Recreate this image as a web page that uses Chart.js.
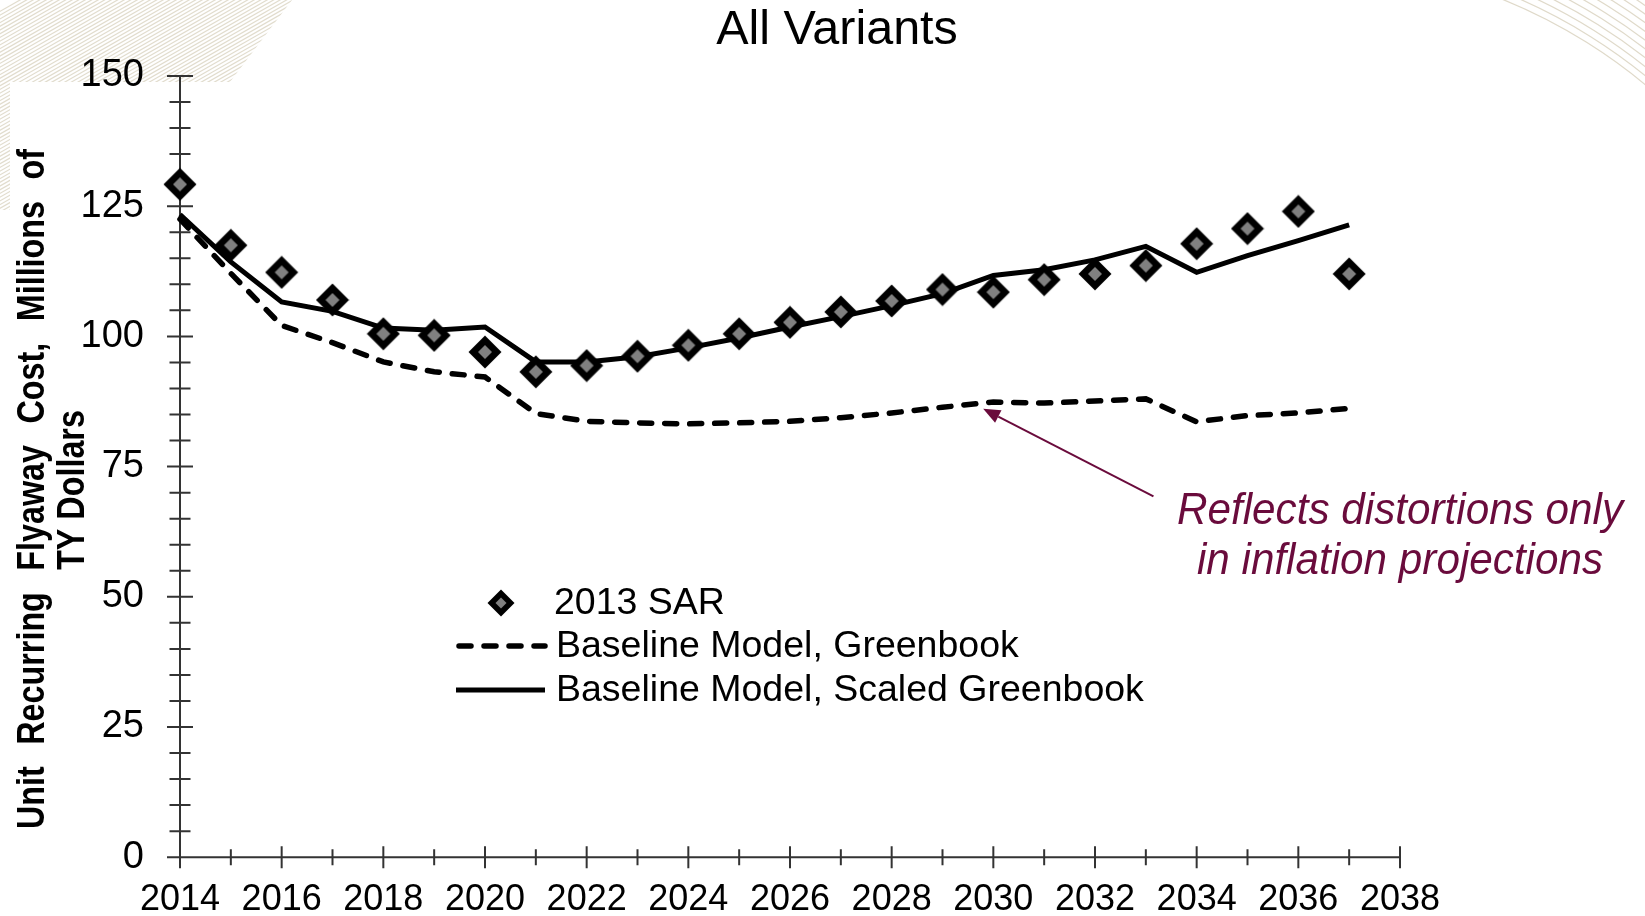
<!DOCTYPE html>
<html>
<head>
<meta charset="utf-8">
<script src="https://cdn.jsdelivr.net/npm/chart.js@4.4.0/dist/chart.umd.min.js"></script>
<style>
html,body{margin:0;padding:0;background:#fff;overflow:hidden;}
#wrap{width:1645px;height:916px;position:relative;}
</style>
</head>
<body>
<div id="wrap"><canvas id="c" width="1645" height="916"></canvas></div>
<script>
// ---- data ----
const years = [2014,2015,2016,2017,2018,2019,2020,2021,2022,2023,2024,2025,2026,2027,2028,2029,2030,2031,2032,2033,2034,2035,2036,2037];
const sar2013 = [129.2,117.5,112.3,107.0,100.5,100.2,97.0,93.2,94.4,96.2,98.3,100.5,102.7,104.7,106.8,109.0,108.5,110.9,112.0,113.6,117.8,120.7,124.0,112.0];
const greenbook = [122.5,112.1,102.1,98.8,95.1,93.2,92.2,85.2,83.7,83.4,83.2,83.4,83.7,84.4,85.3,86.4,87.4,87.2,87.6,88.0,83.6,84.8,85.3,86.2];
const scaledGreenbook = [123.4,114.3,106.6,104.8,101.6,101.2,101.8,95.1,95.1,96.1,97.8,99.7,101.8,103.8,105.9,108.2,111.7,112.8,114.7,117.3,112.3,115.5,118.4,121.4];
const xTickLabels = [2014,2016,2018,2020,2022,2024,2026,2028,2030,2032,2034,2036,2038];
const yTickLabels = [0,25,50,75,100,125,150];
const seriesNames = ['2013 SAR','Baseline Model, Greenbook','Baseline Model, Scaled Greenbook'];
const titleText = 'All Variants';
const yTitleLines = ['Unit Recurring Flyaway Cost, Millions of','TY Dollars'];
const noteLines = ['Reflects distortions only','in inflation projections'];
const arrowTip = {x: 2029.8, y: 86.1};
const arrowTail = {x: 2033.15, y: 69.3};

const FONT = "'Liberation Sans', Arial, sans-serif";
const MAROON = '#6a0b3c';
const DASH = [12, 13];

function pts(vals){ return years.map((yr,i)=>({x:yr,y:vals[i]})); }

function drawDiamond(ctx,cx,cy,outer,inner){
  ctx.beginPath();
  ctx.moveTo(cx,cy-outer); ctx.lineTo(cx+outer,cy); ctx.lineTo(cx,cy+outer); ctx.lineTo(cx-outer,cy); ctx.closePath();
  ctx.fillStyle='#000'; ctx.fill();
  ctx.beginPath();
  ctx.moveTo(cx,cy-inner); ctx.lineTo(cx+inner,cy); ctx.lineTo(cx,cy+inner); ctx.lineTo(cx-inner,cy); ctx.closePath();
  ctx.fillStyle='#808080'; ctx.fill();
}

// point glyph as an image for the library's pointStyle
const diamondImg = document.createElement('canvas');
diamondImg.width = 34; diamondImg.height = 34;
drawDiamond(diamondImg.getContext('2d'), 17, 17, 16.5, 7);

const decorPlugin = {
  id:'decor',
  beforeDraw(chart){
    const ctx = chart.ctx;
    ctx.save();
    ctx.fillStyle='#fff'; ctx.fillRect(0,0,chart.width,chart.height);
    ctx.save();
    ctx.beginPath();
    ctx.moveTo(0,0); ctx.lineTo(292,0); ctx.lineTo(230,82); ctx.lineTo(10,82); ctx.lineTo(10,210); ctx.lineTo(0,210); ctx.closePath();
    ctx.clip();
    ctx.strokeStyle='rgba(196,186,156,0.5)'; ctx.lineWidth=1.2;
    for(let k=-400;k<400;k+=6.5){
      ctx.beginPath(); ctx.moveTo(k,240); ctx.lineTo(k+560,-80); ctx.stroke();
    }
    ctx.restore();
    ctx.save();
    ctx.strokeStyle='rgba(196,186,156,0.55)'; ctx.lineWidth=1.2;
    for(let r=540;r<=610;r+=7){
      ctx.beginPath(); ctx.arc(1300,500,r,-Math.PI/2+0.25,-0.05); ctx.stroke();
    }
    ctx.restore();
    ctx.restore();
  }
};

const axesPlugin = {
  id:'crossAxes',
  beforeDatasetsDraw(chart){
    const {ctx, chartArea:a, scales:{x,y}} = chart;
    ctx.save();
    ctx.strokeStyle='#333'; ctx.lineWidth=2;
    ctx.beginPath();
    ctx.moveTo(a.left, y.getPixelForValue(150)); ctx.lineTo(a.left, y.getPixelForValue(0));
    ctx.moveTo(x.getPixelForValue(2014)-13, a.bottom); ctx.lineTo(x.getPixelForValue(2038), a.bottom);
    for(let v=0; v<=150; v+=5){
      const py=y.getPixelForValue(v); const L = v%25===0?13:10.5;
      ctx.moveTo(a.left-L,py); ctx.lineTo(a.left+L,py);
    }
    for(let yr=2014; yr<=2038; yr++){
      const px=x.getPixelForValue(yr); const L=(yr%2===0)?11:8;
      ctx.moveTo(px,a.bottom-L); ctx.lineTo(px,a.bottom+L);
    }
    ctx.stroke();
    ctx.restore();
  }
};

const textPlugin = {
  id:'texts',
  afterDraw(chart){
    const {ctx, scales:{x,y}} = chart;
    ctx.save();
    // title
    ctx.fillStyle='#000'; ctx.font='48.5px '+FONT; ctx.textAlign='center'; ctx.textBaseline='middle';
    ctx.fillText(titleText, 837, 31);
    // y axis title (condensed bold, first line justified)
    ctx.save();
    ctx.font='bold 38px '+FONT; ctx.fillStyle='#000'; ctx.textBaseline='alphabetic';
    ctx.rotate(-Math.PI/2);
    const sx0 = 0.85;
    ctx.scale(sx0,1);
    const words = yTitleLines[0].split(' ');
    const start=-829/sx0, end=-149/sx0;
    const wsum = words.reduce((s,w)=>s+ctx.measureText(w).width,0);
    const gap = (end-start-wsum)/(words.length-1);
    let cx=start;
    ctx.textAlign='left';
    words.forEach(w=>{ ctx.fillText(w,cx,44); cx+=ctx.measureText(w).width+gap; });
    ctx.textAlign='center';
    ctx.fillText(yTitleLines[1], -490/sx0, 84);
    ctx.restore();
    // legend
    ctx.font='37.5px '+FONT; ctx.textAlign='left'; ctx.textBaseline='middle';
    drawDiamond(ctx,501,603,13.5,5.5);
    ctx.fillStyle='#000';
    ctx.fillText(seriesNames[0],554,604);
    ctx.save();
    ctx.strokeStyle='#000'; ctx.lineWidth=5.5; ctx.lineCap='round'; ctx.setLineDash(DASH);
    ctx.beginPath(); ctx.moveTo(459,646); ctx.lineTo(545,646); ctx.stroke();
    ctx.setLineDash([]); ctx.lineWidth=5; ctx.lineCap='butt';
    ctx.beginPath(); ctx.moveTo(456,690); ctx.lineTo(545,690); ctx.stroke();
    ctx.restore();
    ctx.fillStyle='#000';
    ctx.fillText(seriesNames[1],556,647);
    ctx.fillText(seriesNames[2],556,691);
    // annotation
    ctx.save();
    ctx.font='italic 44px '+FONT; ctx.fillStyle=MAROON; ctx.textAlign='center'; ctx.textBaseline='middle';
    ctx.translate(1400,0); ctx.scale(0.96,1);
    ctx.fillText(noteLines[0],0,512);
    ctx.fillText(noteLines[1],0,562);
    ctx.restore();
    // arrow
    const tx=x.getPixelForValue(arrowTip.x), ty=y.getPixelForValue(arrowTip.y);
    const ax=x.getPixelForValue(arrowTail.x), ay=y.getPixelForValue(arrowTail.y);
    const ang=Math.atan2(ty-ay,tx-ax);
    const hl=17, hw=7;
    const bx=tx-hl*Math.cos(ang), by=ty-hl*Math.sin(ang);
    ctx.strokeStyle=MAROON; ctx.lineWidth=2;
    ctx.beginPath(); ctx.moveTo(ax,ay); ctx.lineTo(bx,by); ctx.stroke();
    ctx.beginPath();
    ctx.moveTo(tx,ty);
    ctx.lineTo(bx+hw*Math.sin(ang), by-hw*Math.cos(ang));
    ctx.lineTo(bx-hw*Math.sin(ang), by+hw*Math.cos(ang));
    ctx.closePath(); ctx.fillStyle=MAROON; ctx.fill();
    ctx.restore();
  }
};

new Chart(document.getElementById('c'), {
  type:'line',
  data:{
    datasets:[
      {label:seriesNames[0], data:pts(sar2013), showLine:false, pointStyle:diamondImg, pointRadius:17, pointHoverRadius:17,
       order:0, clip:false},
      {label:seriesNames[1], data:pts(greenbook), borderColor:'#000', borderWidth:5.5, borderDash:DASH, borderCapStyle:'round',
       pointRadius:0, tension:0, fill:false, order:2, clip:false},
      {label:seriesNames[2], data:pts(scaledGreenbook), borderColor:'#000', borderWidth:5, pointRadius:0, tension:0, fill:false,
       borderJoinStyle:'miter', order:1, clip:false}
    ]
  },
  options:{
    responsive:false, animation:false, devicePixelRatio:1,
    layout:{padding:{left:0, top:76, right:245, bottom:0}},
    plugins:{legend:{display:false}, tooltip:{enabled:false}, title:{display:false}},
    scales:{
      x:{type:'linear', min:2014, max:2038,
         grid:{display:false, drawTicks:false, tickLength:0}, border:{display:false},
         afterBuildTicks(s){ s.ticks = xTickLabels.map(v=>({value:v})); },
         ticks:{autoSkip:false, maxRotation:0, padding:21, color:'#000', font:{family:FONT, size:36}, callback:v=>String(v)},
         afterFit(s){ s.height = 58; }},
      y:{type:'linear', min:0, max:150,
         grid:{display:false, drawTicks:false, tickLength:0}, border:{display:false},
         afterBuildTicks(s){ s.ticks = yTickLabels.map(v=>({value:v})); },
         ticks:{padding:36, color:'#000', font:{family:FONT, size:38}, callback:v=>String(v)},
         afterFit(s){ s.width = 180; }}
    }
  },
  plugins:[decorPlugin, axesPlugin, textPlugin]
});
</script>
</body>
</html>
